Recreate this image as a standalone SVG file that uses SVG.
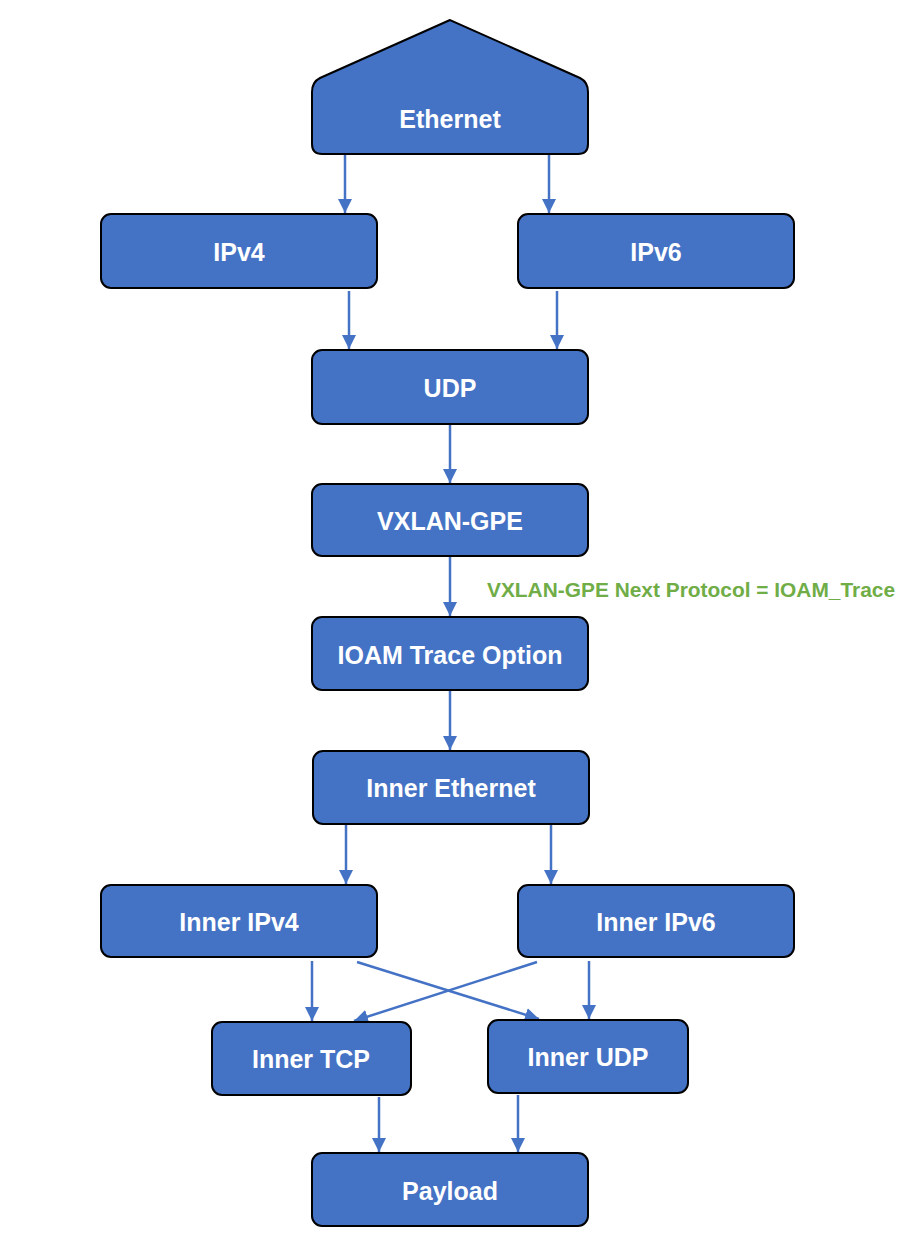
<svg xmlns="http://www.w3.org/2000/svg" width="900" height="1260" viewBox="0 0 900 1260">
<defs>
<style>
.box{fill:#4472C4;stroke:#000;stroke-width:2}
.lbl{fill:#fff;font-family:"Liberation Sans",Arial,sans-serif;font-weight:bold;font-size:25px;text-anchor:middle;dominant-baseline:central}
.edge{stroke:#4472C4;stroke-width:2.5;fill:none;marker-end:url(#ah)}
.note{fill:#70AD47;font-family:"Liberation Sans",Arial,sans-serif;font-weight:bold;font-size:20px}
</style>
<marker id="ah" viewBox="0 0 10 10" refX="10" refY="5" markerWidth="14" markerHeight="14" markerUnits="userSpaceOnUse" orient="auto">
<path d="M0,0 L10,5 L0,10 Z" fill="#4472C4"/>
</marker>
</defs>
<rect width="900" height="1260" fill="#fff"/>
<g id="connectors">
<line class="edge" x1="345" y1="155" x2="345" y2="213"/>
<line class="edge" x1="549" y1="155" x2="549" y2="213"/>
<line class="edge" x1="349" y1="291" x2="349" y2="349"/>
<line class="edge" x1="557" y1="291" x2="557" y2="349"/>
<line class="edge" x1="450" y1="425" x2="450" y2="483"/>
<line class="edge" x1="450" y1="557" x2="450" y2="616"/>
<line class="edge" x1="450" y1="691" x2="450" y2="750"/>
<line class="edge" x1="346" y1="825" x2="346" y2="884"/>
<line class="edge" x1="551" y1="825" x2="551" y2="884"/>
<line class="edge" x1="312" y1="961" x2="312" y2="1021"/>
<line class="edge" x1="589" y1="961" x2="589" y2="1019"/>
<line class="edge" x1="357" y1="962" x2="539" y2="1019"/>
<line class="edge" x1="537" y1="962" x2="354" y2="1021"/>
<line class="edge" x1="379" y1="1097" x2="379" y2="1152"/>
<line class="edge" x1="518" y1="1095" x2="518" y2="1152"/>
</g>
<g id="ethernet">
<path class="box" d="M450,20 L320,78 Q312,82 312,92 L312,144 Q312,154 322,154 L578,154 Q588,154 588,144 L588,92 Q588,82 580,78 Z"/>
<text class="lbl" x="450" y="119">Ethernet</text>
</g>
<g id="ipv4">
<rect class="box" x="101" y="214" width="276" height="74" rx="10"/>
<text class="lbl" x="239" y="252">IPv4</text>
</g>
<g id="ipv6">
<rect class="box" x="518" y="214" width="276" height="74" rx="10"/>
<text class="lbl" x="656" y="252">IPv6</text>
</g>
<g id="udp">
<rect class="box" x="312" y="350" width="276" height="74" rx="10"/>
<text class="lbl" x="450" y="388">UDP</text>
</g>
<g id="vxlan-gpe">
<rect class="box" x="312" y="484" width="276" height="72" rx="10"/>
<text class="lbl" x="450" y="521">VXLAN-GPE</text>
</g>
<g id="next-protocol-label">
<text class="note" x="487" y="597" textLength="408" lengthAdjust="spacingAndGlyphs">VXLAN-GPE Next Protocol = IOAM_Trace</text>
</g>
<g id="ioam-trace">
<rect class="box" x="312" y="617" width="276" height="73" rx="10"/>
<text class="lbl" x="450" y="655">IOAM Trace Option</text>
</g>
<g id="inner-ethernet">
<rect class="box" x="313" y="751" width="276" height="73" rx="10"/>
<text class="lbl" x="451" y="788">Inner Ethernet</text>
</g>
<g id="inner-ipv4">
<rect class="box" x="101" y="885" width="276" height="72" rx="10"/>
<text class="lbl" x="239" y="922">Inner IPv4</text>
</g>
<g id="inner-ipv6">
<rect class="box" x="518" y="885" width="276" height="72" rx="10"/>
<text class="lbl" x="656" y="922">Inner IPv6</text>
</g>
<g id="inner-tcp">
<rect class="box" x="212" y="1022" width="199" height="73" rx="10"/>
<text class="lbl" x="311" y="1059">Inner TCP</text>
</g>
<g id="inner-udp">
<rect class="box" x="488" y="1020" width="200" height="73" rx="10"/>
<text class="lbl" x="588" y="1057">Inner UDP</text>
</g>
<g id="payload">
<rect class="box" x="312" y="1153" width="276" height="73" rx="10"/>
<text class="lbl" x="450" y="1191">Payload</text>
</g>
</svg>
